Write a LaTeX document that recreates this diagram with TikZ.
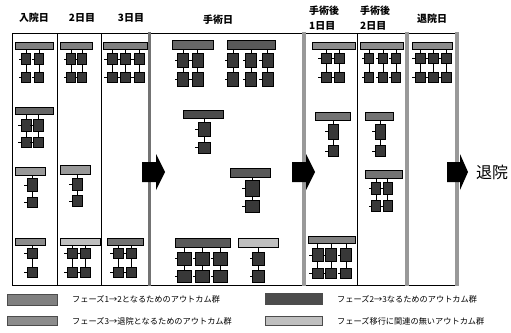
\documentclass[tikz,border=0pt]{standalone}
\usepackage{fontspec}
\newfontfamily\jp{Noto Sans CJK JP}
\tikzset{
  hdr/.style={draw=black, line width=0.6pt, inner sep=0pt},
  sbox/.style={draw=black, fill=black!78, inner sep=0pt, line width=0.4pt},
  cl/.style={draw=black, line width=0.5pt},
  fr/.style={draw=black, line width=0.7pt},
  band/.style={draw=black!40, line width=3.5pt},
  hd/.style={font=\jp\bfseries\fontsize{10}{15}\selectfont, inner sep=0pt},
  lg/.style={font=\jp\fontsize{8.2}{10}\selectfont, anchor=west, inner sep=0pt},
  lgb/.style={draw=black!70, line width=0.4pt, inner sep=0pt},
  bigarrow/.style={fill=black}
}
\newcommand\clus[9]{%
 \node[hdr, fill=#6, minimum width=#4*1pt, minimum height=#5*1pt] (#1h) at (#2,#3) {};
 \foreach \ra/\rb/\rc/\rd in {#9}{%
  \foreach \bx [count=\bi] in {#7}{%
   \node[sbox, minimum width=#8*1pt, minimum height=\rb*1pt] (#1t\bi) at (\bx,\ra) {};
   \node[sbox, minimum width=#8*1pt, minimum height=\rd*1pt] (#1b\bi) at (\bx,\rc) {};
   \draw[cl] (#1t\bi.north |- #1h.south) -- (#1t\bi.north);
   \draw[cl] (#1t\bi) -- (#1b\bi);
   \draw[cl] (#1t\bi.west) -- ++(-2.5,0);
   \draw[cl] (#1b\bi.west) -- ++(-2.5,0);
  }%
 }%
}
\begin{document}
\begin{tikzpicture}[x=1pt,y=-1pt]
\fill[white] (0,0) rectangle (511,332);
\useasboundingbox (0,0) rectangle (511,332);
% headings
\node[hd] (h1) at (34,17.5) {入院日};
\node[hd] (h2) at (82,17.5) {2日目};
\node[hd] (h3) at (131,17.5) {3日目};
\node[hd] (h4) at (218,19.5) {手術日};
\node[hd, anchor=west, align=left] (h5) at (309,18.5) {手術後\\1日目};
\node[hd, anchor=west, align=left] (h6) at (360,18.5) {手術後\\2日目};
\node[hd] (h7) at (432,18.5) {退院日};
% frame
\draw[fr] (12,33) -- (457,33);
\draw[fr] (12,285) -- (457,285);
\draw[fr] (12,33) -- (12,285);
\draw[fr] (57,33) -- (57,285);
\draw[fr] (101,33) -- (101,285);
\draw[fr] (357,33) -- (357,285);
\draw[band, draw=black!55] (149.5,32) -- (149.5,286);
\draw[band] (304,32) -- (304,286);
\draw[band] (407,32) -- (407,286);
\draw[band] (457,32) -- (457,286);
% clusters
\clus{caa}{34}{45.5}{38}{7}{black!50}{26,39}{9}{59/11/77/10}
\clus{cba}{76}{45.5}{32}{7}{black!50}{71,82}{9}{59/11/77/10}
\clus{cca}{125}{45.5}{44}{7}{black!50}{112,125,139}{10}{59/11/77/10}
\clus{cda}{192.5}{45}{41}{9}{black!60}{183,197.5}{11}{60.5/14/79.5/14}
\clus{cdb}{251}{45}{48}{9}{black!65}{233,251,267.5}{11}{60.5/14/79.5/14}
\clus{cea}{333.5}{45.5}{43}{7}{black!45}{326,339}{10}{58/10/77/10}
\clus{cfa}{381.5}{45.5}{43}{7}{black!45}{369,383,396}{9}{58/10/77/10}
\clus{cga}{432}{45.5}{40}{7}{black!45}{420,433,446}{10}{58/10/77/10}
\clus{cab}{34}{111}{38}{7}{black!60}{26,38}{10}{125/12/142.5/10}
\clus{cdc}{203}{114}{40}{8}{black!70}{204}{12}{129.5/14/147.5/11}
\clus{ceb}{332.5}{116}{35}{8}{black!55}{333}{10}{131.5/15/151/11}
\clus{cfb}{379}{116}{28}{8}{black!55}{380}{10}{131.5/15/151/11}
\clus{cac}{30}{171}{30}{8}{black!40}{32}{10}{185/13/202/10}
\clus{cbb}{75}{170}{30}{9}{black!40}{77}{10}{184/12/201/11}
\clus{cdd}{250}{173}{40}{9}{black!65}{252}{14}{188.5/16/206/12}
\clus{cfc}{383.5}{174}{37}{8}{black!55}{376,387.5}{9}{188.5/12/206/11}
\clus{cad}{30}{241.5}{30}{7}{black!45}{32}{10}{253/10/272/10}
\clus{cbc}{80}{241.5}{40}{7}{black!25}{72,85}{10}{253/10/272/10}
\clus{ccc}{125}{241.5}{36}{7}{black!55}{118,131}{10}{253/10/272/10}
\clus{cde}{202.5}{242.5}{55}{9}{black!65}{184.5,202.5,220.5}{14}{258.5/13/276.5/12}
\clus{cdf}{258}{242.5}{40}{9}{black!25}{258.5}{12}{258.5/13/276.5/12}
\clus{cec}{331.5}{240}{47}{7}{black!50}{317.5,331,346}{11}{255/13/273/10}
% big arrows
\fill[bigarrow] (142,162) -- (156,162) -- (156,154) -- (165,172) -- (156,190) -- (156,182) -- (142,182) -- cycle;
\fill[bigarrow] (292,162) -- (306,162) -- (306,154) -- (315,172) -- (306,190) -- (306,182) -- (292,182) -- cycle;
\fill[bigarrow] (447,162) -- (460,162) -- (460,154) -- (468,172) -- (460,190) -- (460,182) -- (447,182) -- cycle;
\node[font=\jp\fontsize{16}{18}\selectfont, anchor=west, inner sep=0pt] (end) at (476,172) {退院};
% legend
\node[lgb, fill=black!50, minimum width=50pt, minimum height=11pt] (k1) at (32,299.5) {};
\node[lg] (t1) at (72,299.5) {フェーズ1→2となるためのアウトカム群};
\node[lgb, fill=black!45, minimum width=50pt, minimum height=9pt] (k2) at (32,321) {};
\node[lg] (t2) at (72,321) {フェーズ3→退院となるためのアウトカム群};
\node[lgb, fill=black!70, minimum width=57pt, minimum height=11pt] (k3) at (293.5,299) {};
\node[lg] (t3) at (337,299) {フェーズ2→3なるためのアウトカム群};
\node[lgb, fill=black!25, minimum width=57pt, minimum height=9pt] (k4) at (293.5,321) {};
\node[lg] (t4) at (337,321) {フェーズ移行に関連の無いアウトカム群};
\end{tikzpicture}
\end{document}
